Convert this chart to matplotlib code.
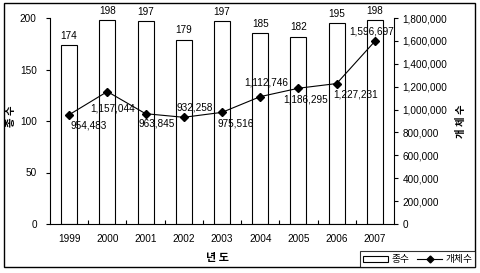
import matplotlib
matplotlib.use("Agg")
import matplotlib.pyplot as plt
from matplotlib.patches import Rectangle
from matplotlib.lines import Line2D
from matplotlib.patches import Patch

years = ["1999", "2000", "2001", "2002", "2003", "2004", "2005", "2006", "2007"]
species = [174, 198, 197, 179, 197, 185, 182, 195, 198]
individuals = [954483, 1157044, 963845, 932258, 975516, 1112746, 1186295, 1227231, 1596697]
left_ticks = [0, 50, 100, 150, 200]
right_ticks = [0, 200000, 400000, 600000, 800000, 1000000, 1200000, 1400000, 1600000, 1800000]
# label offsets (points) for line data labels
label_offsets = [(14, -8), (4, -12), (8, -7), (8, 7), (10, -8), (4, 10), (5, -8), (14, -8), (-2, 7)]

num_font = ["Liberation Sans", "DejaVu Sans"]
kr_font = ["Noto Sans CJK KR", "DejaVu Sans"]
fs = 7.2

fig = plt.figure(figsize=(4.8, 2.73), dpi=100)
ax = fig.add_axes([50/480, 1-224/273, (394-50)/480, (224-18)/273])
ax2 = ax.twinx()

x = list(range(len(years)))
ax.bar(x, species, width=0.42, color="white", edgecolor="black", linewidth=0.8, zorder=2)
for xi, v in zip(x, species):
    ax.annotate(f"{v}", (xi, v), xytext=(0, 3), textcoords="offset points",
                ha="center", va="bottom", fontsize=fs, family=num_font)

ax.set_xlim(-0.5, len(years)-0.5)
ax.set_ylim(0, 200)
ax.set_yticks(left_ticks)
ax.set_yticklabels([str(t) for t in left_ticks], family=num_font, fontsize=fs)
ax.set_xticks(x)
ax.set_xticklabels(years, family=num_font, fontsize=fs)
ax.tick_params(axis="x", length=0, pad=7)
ax.set_xticks([i + 0.5 for i in x[:-1]], minor=True)
ax.tick_params(axis="x", which="minor", direction="in", length=3, width=0.8)
ax.tick_params(axis="y", direction="out", length=3, width=0.8, pad=6.5)

ax2.plot(x, individuals, color="black", linewidth=0.8, marker="D", markersize=4, zorder=3)
ax2.set_ylim(0, 1800000)
ax2.set_yticks(right_ticks)
ax2.set_yticklabels([f"{t:,}" for t in right_ticks], family=num_font, fontsize=fs)
ax2.tick_params(axis="y", direction="out", length=3, width=0.8, pad=3)
for xi, v, off in zip(x, individuals, label_offsets):
    ax2.annotate(f"{v:,}", (xi, v), xytext=off, textcoords="offset points",
                 ha="center", va="center", fontsize=fs, family=num_font)

for a in (ax, ax2):
    a.spines["top"].set_visible(False)
    for s in ("left", "right", "bottom"):
        a.spines[s].set_linewidth(0.8)
ax.spines["right"].set_visible(False)
ax2.spines["left"].set_visible(False)
ax2.spines["bottom"].set_visible(False)

fig.text(11/480, 1-116/273, "종 수", rotation=90, ha="center", va="center",
         fontsize=7.5, fontweight="bold", family=kr_font)
fig.text(461/480, 1-121/273, "개 체 수", rotation=90, ha="center", va="center",
         fontsize=7.5, fontweight="bold", family=kr_font)
fig.text(218/480, 1-257/273, "년 도", ha="center", va="center",
         fontsize=8, fontweight="bold", family=kr_font)

handles = [Patch(facecolor="white", edgecolor="black", linewidth=0.8, label="종수"),
           Line2D([], [], color="black", linewidth=0.8, marker="D", markersize=3.5, label="개체수")]
leg = fig.legend(handles=handles, loc="lower right", bbox_to_anchor=(475/480, 1-267/273),
                 ncol=2, frameon=True, fancybox=False, fontsize=7, prop={"family": kr_font, "size": 7},
                 handlelength=2.6, handleheight=0.6, handletextpad=0.3, columnspacing=0.8,
                 borderpad=0.3, borderaxespad=0)
leg.get_frame().set_edgecolor("black")
leg.get_frame().set_linewidth(0.8)

fig.patches.append(Rectangle((4/480, 1-267/273), (475-4)/480, (267-3)/273,
                             transform=fig.transFigure, fill=False, edgecolor="black",
                             linewidth=1.0))

fig.savefig("out.png", dpi=100)
